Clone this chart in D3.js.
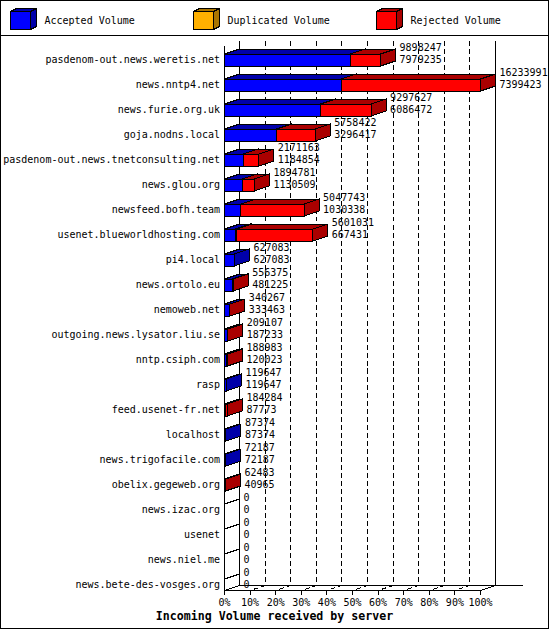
<!DOCTYPE html>
<html>
<head>
<meta charset="utf-8">
<script src="https://cdn.jsdelivr.net/npm/d3@7"></script>
<style>
  body { margin: 0; background: #fff; }
  text { font-family: "DejaVu Sans Mono", "Liberation Mono", monospace; }
</style>
</head>
<body>
<div id="chart"></div>
<script>
// server names, top to bottom
const servers = [
  "pasdenom-out.news.weretis.net",
  "news.nntp4.net",
  "news.furie.org.uk",
  "goja.nodns.local",
  "pasdenom-out.news.tnetconsulting.net",
  "news.glou.org",
  "newsfeed.bofh.team",
  "usenet.blueworldhosting.com",
  "pi4.local",
  "news.ortolo.eu",
  "nemoweb.net",
  "outgoing.news.lysator.liu.se",
  "nntp.csiph.com",
  "rasp",
  "feed.usenet-fr.net",
  "localhost",
  "news.trigofacile.com",
  "obelix.gegeweb.org",
  "news.izac.org",
  "usenet",
  "news.niel.me",
  "news.bete-des-vosges.org"
];

// total incoming volume (upper number)
const totalVol = [9898247, 16233991, 9297627, 5758422, 2171163, 1894781, 5047743, 5601031,
  627083, 556375, 340267, 209107, 188983, 119647, 184284, 87374, 72187, 62483, 0, 0, 0, 0];
// accepted volume (lower number)
const acceptedVol = [7979235, 7399423, 6086472, 3296417, 1184854, 1130509, 1030338, 667431,
  627083, 481225, 333463, 187233, 120023, 119647, 87773, 87374, 72187, 40965, 0, 0, 0, 0];
// duplicated volume (only a sliver visible on one bar)
const duplicatedVol = [0, 0, 0, 0, 0, 0, 0, 90000,
  0, 0, 0, 0, 0, 0, 0, 0, 0, 0, 0, 0, 0, 0];

const seriesNames = ["Accepted Volume", "Duplicated Volume", "Rejected Volume"];
const tickPct = [0, 10, 20, 30, 40, 50, 60, 70, 80, 90, 100];

const W = 550, H = 630;
const DX = 15, DY = 5;   // 3d depth of the bars / floor

const colors = [
  { front: "#0000ff", side: "#0000aa" },
  { front: "#ffb000", side: "#aa7500" },
  { front: "#ff0000", side: "#aa0000" }
];

const svg = d3.select("#chart").append("svg")
  .attr("width", W)
  .attr("height", H);

svg.append("rect")
  .attr("x", 0.5).attr("y", 0.5)
  .attr("width", W - 2).attr("height", H - 2)
  .attr("fill", "#fff").attr("stroke", "#000");

// legend
svg.append("line")
  .attr("x1", 0).attr("x2", W - 1)
  .attr("y1", 35.5).attr("y2", 35.5)
  .attr("stroke", "#000");

const legendX = [10.5, 193.5, 376.5];
seriesNames.forEach((name, i) => {
  const lx = legendX[i], ly = 11.5, lw = 20, lh = 18, d = 6, dd = 3;
  const lg = svg.append("g").attr("shape-rendering", "crispEdges");
  lg.append("polygon")
    .attr("points", [[lx, ly], [lx + d, ly - dd], [lx + lw + d, ly - dd], [lx + lw, ly]].join(" "))
    .attr("fill", colors[i].side).attr("stroke", "#000");
  lg.append("polygon")
    .attr("points", [[lx + lw, ly], [lx + lw + d, ly - dd], [lx + lw + d, ly + lh - dd], [lx + lw, ly + lh]].join(" "))
    .attr("fill", colors[i].side).attr("stroke", "#000");
  lg.append("rect")
    .attr("x", lx).attr("y", ly).attr("width", lw).attr("height", lh)
    .attr("fill", colors[i].front).attr("stroke", "#000");
  svg.append("text")
    .attr("x", lx + 34).attr("y", 24)
    .attr("font-size", 10)
    .text(name);
});

// scales
const x = d3.scaleLinear()
  .domain([0, d3.max(totalVol)])
  .range([224.5, 480.5]);

const pct = d3.scaleLinear()
  .domain([0, 100])
  .range([224.5, 480.5]);

const y = d3.scaleBand()
  .domain(servers)
  .range([47, 597])
  .paddingInner(0.52)
  .paddingOuter(0.26);

const plotTop = 40.5, floorFront = 590.5, floorBack = floorFront - DY;

const plot = svg.append("g").attr("shape-rendering", "crispEdges");

// back walls
plot.append("line")
  .attr("x1", pct(0) + DX).attr("x2", pct(0) + DX)
  .attr("y1", plotTop).attr("y2", floorBack)
  .attr("stroke", "#000");
plot.append("line")
  .attr("x1", pct(100) + DX).attr("x2", pct(100) + DX)
  .attr("y1", plotTop).attr("y2", floorBack)
  .attr("stroke", "#000");
plot.append("line")
  .attr("x1", pct(0)).attr("x2", pct(0))
  .attr("y1", plotTop + DY).attr("y2", floorFront)
  .attr("stroke", "#000");

// dashed grid lines on back wall and floor
plot.selectAll("path.grid")
  .data(tickPct.slice(1, -1))
  .enter()
  .append("path")
  .attr("class", "grid")
  .attr("d", d => `M${pct(d) + DX},${plotTop}V${floorBack}L${pct(d)},${floorFront}`)
  .attr("fill", "none")
  .attr("stroke", "#000")
  .attr("stroke-dasharray", "5,3");

// floor
plot.append("path")
  .attr("d", `M${pct(0)},${floorFront}H${pct(100)}L${pct(100) + DX},${floorBack}`)
  .attr("fill", "none").attr("stroke", "#000");
plot.append("path")
  .attr("d", `M${pct(0)},${floorFront}L${pct(0) + DX},${floorBack}H${pct(100) + DX + 27}`)
  .attr("fill", "none").attr("stroke", "#000");

// tick marks
plot.selectAll("line.tick")
  .data(tickPct)
  .enter()
  .append("line")
  .attr("class", "tick")
  .attr("x1", d => pct(d)).attr("x2", d => pct(d))
  .attr("y1", floorFront).attr("y2", floorFront + 4)
  .attr("stroke", "#000");

svg.selectAll("text.tickLabel")
  .data(tickPct)
  .enter()
  .append("text")
  .attr("class", "tickLabel")
  .attr("x", d => pct(d))
  .attr("y", 605.5)
  .attr("text-anchor", "middle")
  .attr("font-size", 10)
  .text(d => d + "%");

svg.append("text")
  .attr("x", 274.5)
  .attr("y", 619.5)
  .attr("text-anchor", "middle")
  .attr("font-size", 11.6)
  .attr("font-weight", "bold")
  .text("Incoming Volume received by server");

// bars
const rows = servers.map((s, i) => {
  const rej = totalVol[i] - acceptedVol[i] - duplicatedVol[i];
  return { name: s, total: totalVol[i], accepted: acceptedVol[i], parts: [acceptedVol[i], duplicatedVol[i], rej] };
});

function box(g, x0, x1, top, bot, c) {
  g.append("polygon")
    .attr("points", [[x0, top], [x0 + DX, top - DY], [x1 + DX, top - DY], [x1, top]].join(" "))
    .attr("fill", c.side).attr("stroke", "#000");
  g.append("polygon")
    .attr("points", [[x1, top], [x1 + DX, top - DY], [x1 + DX, bot - DY], [x1, bot]].join(" "))
    .attr("fill", c.side).attr("stroke", "#000");
  g.append("rect")
    .attr("x", x0).attr("y", top)
    .attr("width", x1 - x0).attr("height", bot - top)
    .attr("fill", c.front).attr("stroke", "#000");
}

rows.forEach(r => {
  const top = y(r.name) + 0.5;
  const bot = top + y.bandwidth();
  const g = plot.append("g");
  if (r.total === 0) {
    g.append("line")
      .attr("x1", x(0)).attr("y1", top)
      .attr("x2", x(0) + DX).attr("y2", top - DY)
      .attr("stroke", "#000");
    return;
  }
  let acc = 0;
  r.parts.forEach((v, k) => {
    if (v <= 0) return;
    box(g, x(acc), x(acc + v), top, bot, colors[k]);
    acc += v;
  });
});

// category labels
svg.selectAll("text.cat")
  .data(rows)
  .enter()
  .append("text")
  .attr("class", "cat")
  .attr("x", 220)
  .attr("y", d => y(d.name) + y.bandwidth() / 2 + 3.5)
  .attr("text-anchor", "end")
  .attr("font-size", 10)
  .text(d => d.name);

// value labels (total / accepted)
const vals = svg.selectAll("g.val")
  .data(rows)
  .enter()
  .append("g")
  .attr("class", "val");

vals.append("text")
  .attr("x", d => x(d.total) + DX + 4)
  .attr("y", d => y(d.name) + y.bandwidth() / 2 - 8.5)
  .attr("font-size", 10)
  .text(d => d.total);

vals.append("text")
  .attr("x", d => x(d.total) + DX + 4)
  .attr("y", d => y(d.name) + y.bandwidth() / 2 + 3.5)
  .attr("font-size", 10)
  .text(d => d.accepted);
</script>
</body>
</html>
